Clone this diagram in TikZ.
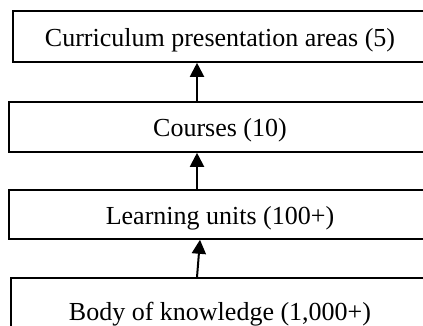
\documentclass[tikz,border=0pt]{standalone}
\usepackage{fontspec}
\setmainfont{Liberation Serif}
\usetikzlibrary{arrows.meta}
\begin{document}
\begin{tikzpicture}[x=1pt,y=-1pt,
  box/.style={draw,line width=1.6pt,rectangle,inner sep=0pt,
    font=\fontsize{26}{30}\selectfont,text height=22pt,text depth=2pt},
  arr/.style={line width=2pt,-{Triangle[width=14pt,length=14pt]}}]
\useasboundingbox (0,0) rectangle (423,326);
\draw[draw=none] (0,0) rectangle (423,326);
\node[box,minimum width=414pt,minimum height=51pt] (b1) at (220,36.5) {Curriculum presentation areas (5)};
\node[box,minimum width=422pt,minimum height=50pt] (b2) at (220,127) {Courses (10)};
\node[box,minimum width=422pt,minimum height=49pt] (b3) at (220,214.5) {Learning units (100+)};
\node[box,minimum width=418pt,minimum height=64pt] (b4) at (220,310) {Body of knowledge (1,000+)};
\draw[arr] ([xshift=-23pt]b2.north) -- ([xshift=-23pt]b1.south);
\draw[arr] ([xshift=-23pt]b3.north) -- ([xshift=-23pt]b2.south);
\draw[arr] ([xshift=-23pt]b4.north) -- ([xshift=-20pt]b3.south);
\end{tikzpicture}
\end{document}
